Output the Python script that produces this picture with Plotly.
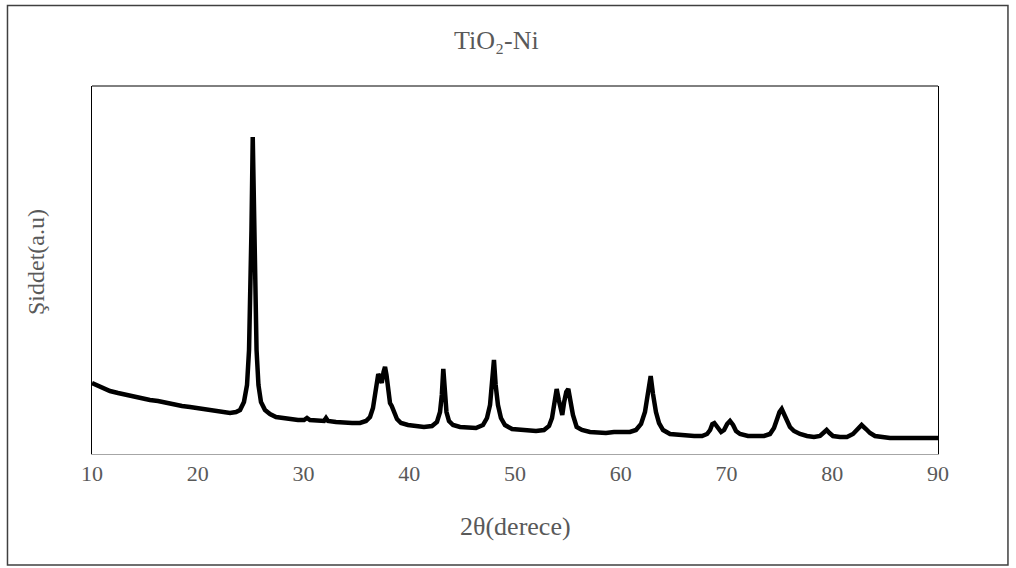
import plotly.graph_objects as go

two_theta = [
    10.00, 10.38, 10.76, 11.23, 11.70, 12.46, 13.22, 13.97, 14.73, 15.48,
    16.24, 17.00, 17.75, 18.51, 19.27, 20.02, 20.78, 21.54, 22.29, 23.05,
    23.62, 24.00, 24.37, 24.66, 24.85, 24.99, 25.08, 25.20, 25.32, 25.41,
    25.56, 25.74, 25.98, 26.36, 26.83, 27.40, 27.97, 28.72, 29.48, 30.05,
    30.33, 30.61, 31.37, 31.94, 32.13, 32.32, 33.07, 33.83, 34.59, 35.34,
    35.91, 36.29, 36.57, 36.76, 36.95, 37.07, 37.23, 37.40, 37.57, 37.71,
    37.85, 37.99, 38.18, 38.34, 38.56, 38.84, 39.22, 39.88, 40.64, 41.39,
    42.15, 42.62, 42.91, 43.08, 43.22, 43.36, 43.52, 43.76, 44.14, 44.80,
    45.56, 46.31, 46.97, 47.35, 47.64, 47.85, 48.01, 48.17, 48.39, 48.67,
    49.05, 49.72, 50.47, 51.23, 51.99, 52.74, 53.22, 53.50, 53.74, 53.94,
    54.14, 54.30, 54.47, 54.65, 54.85, 55.04, 55.25, 55.48, 55.83, 56.33,
    57.09, 57.85, 58.60, 59.36, 60.12, 60.87, 61.44, 61.92, 62.29, 62.58,
    62.83, 63.05, 63.33, 63.62, 64.00, 64.66, 65.42, 66.18, 66.94, 67.69,
    68.16, 68.45, 68.66, 68.85, 69.06, 69.30, 69.49, 69.77, 70.06, 70.33,
    70.62, 70.90, 71.28, 72.03, 72.79, 73.55, 74.11, 74.49, 74.82, 75.01,
    75.22, 75.43, 75.72, 76.00, 76.38, 76.95, 77.61, 78.27, 78.84, 79.22,
    79.47, 79.74, 80.07, 80.73, 81.39, 81.96, 82.34, 82.78, 83.19, 83.57,
    84.04, 84.70, 85.46, 86.21, 86.97, 87.73, 88.49, 89.24, 90.00,
]
intensity = [
    71, 69, 67, 65, 63, 61, 59, 57, 55, 54,
    53, 51, 50, 48, 47, 46, 44, 43, 42, 41,
    42, 44, 52, 69, 104, 154, 224, 317, 224, 154,
    104, 69, 52, 44, 40, 37, 36, 35, 34, 34,
    36, 34, 33, 33, 36, 33, 32, 31, 31, 31,
    33, 37, 46, 59, 74, 80, 76, 71, 82, 87,
    79, 62, 51, 48, 42, 35, 31, 29, 28, 27,
    28, 32, 42, 59, 85, 59, 42, 33, 29, 27,
    26, 26, 29, 36, 49, 69, 94, 69, 49, 36,
    29, 25, 24, 24, 23, 24, 28, 36, 54, 65,
    54, 44, 39, 52, 62, 65, 54, 39, 27, 24,
    22, 21, 21, 22, 22, 22, 24, 30, 42, 59,
    78, 60, 42, 31, 24, 20, 19, 18, 18, 18,
    20, 24, 30, 31, 28, 23, 22, 24, 30, 33,
    29, 23, 20, 18, 18, 18, 20, 26, 36, 42,
    45, 40, 33, 27, 23, 20, 18, 17, 18, 22,
    24, 21, 18, 17, 17, 20, 25, 29, 25, 21,
    18, 17, 16, 16, 16, 16, 17, 16, 16,
]

x_ticks = [10, 20, 30, 40, 50, 60, 70, 80, 90]

title_text = "TiO₂-Ni"
x_title = "2θ(derece)"
y_title = "Şiddet(a.u)"

FONT = "Liberation Serif"
GREY = "#595959"

fig = go.Figure()
fig.add_trace(go.Scatter(
    x=two_theta, y=intensity, mode="lines",
    line=dict(color="black", width=4.5),
    showlegend=False, hoverinfo="skip",
))

fig.update_layout(
    width=1016, height=568,
    margin=dict(l=92, r=78, t=86, b=114),
    paper_bgcolor="white", plot_bgcolor="white",
    font=dict(family=FONT, color=GREY, size=22),
    xaxis=dict(
        range=[10, 90], tickvals=x_ticks, ticktext=[str(v) for v in x_ticks],
        showgrid=False, zeroline=False, ticks="",
        showline=True, linecolor="#a6a6a6", linewidth=1,
        tickfont=dict(family=FONT, size=22, color=GREY),
        ticklabelstandoff=0,
    ),
    yaxis=dict(
        range=[0, 368], showticklabels=False, showgrid=False, zeroline=False,
        ticks="", showline=True, linecolor="black", linewidth=1, mirror=True,
    ),
    shapes=[
        dict(type="line", xref="paper", yref="paper", x0=0, x1=1, y0=1, y1=1,
             line=dict(color="black", width=1)),
        dict(type="rect", xref="paper", yref="paper",
             x0=-0.0999, x1=1.0827, y0=-0.3016, y1=1.2188,
             line=dict(color="#404040", width=1.5)),
    ],
    annotations=[
        dict(text=title_text, xref="paper", yref="paper", x=0.4787, y=1.125,
             showarrow=False, xanchor="center", yanchor="middle",
             font=dict(family=FONT, size=26, color=GREY)),
        dict(text=x_title, xref="paper", yref="paper", x=0.5, y=-0.1957,
             showarrow=False, xanchor="center", yanchor="middle",
             font=dict(family=FONT, size=26, color=GREY)),
        dict(text=y_title, xref="paper", yref="paper", x=-0.0662, y=0.5217,
             showarrow=False, xanchor="center", yanchor="middle", textangle=-90,
             font=dict(family=FONT, size=24, color=GREY)),
    ],
)

fig.write_html("out.html", config={"displayModeBar": False},
               post_script="document.body.style.margin='0';")
